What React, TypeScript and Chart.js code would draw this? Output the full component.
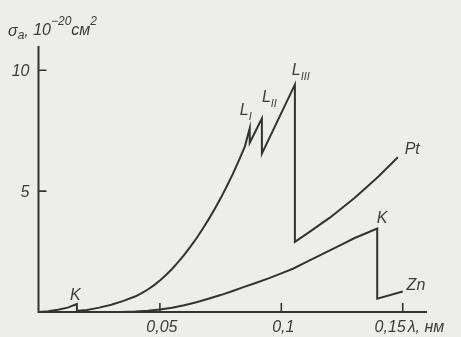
import { useEffect, useRef } from "react";
import { Chart, registerables } from "chart.js";

Chart.register(...registerables);

// Platinum: K edge near 0.016 nm, then L_I, L_II, L_III edges
const ptWavelength = [
  0, 0.004, 0.008, 0.012, 0.0158, 0.0158, 0.02, 0.025, 0.03, 0.035, 0.04, 0.0425,
  0.045, 0.0475, 0.05, 0.0525, 0.055, 0.0575, 0.06, 0.0625, 0.065, 0.0675, 0.07,
  0.0725, 0.075, 0.0775, 0.08, 0.0825, 0.085, 0.087, 0.087, 0.092, 0.092,
  0.1056, 0.1056, 0.11, 0.115, 0.12, 0.125, 0.13, 0.135, 0.14, 0.148,
];
const ptCrossSection = [
  0, 0.03, 0.09, 0.18, 0.33, 0.05, 0.08, 0.18, 0.3, 0.46, 0.65, 0.78,
  0.93, 1.1, 1.3, 1.53, 1.78, 2.06, 2.36, 2.69, 3.04, 3.42, 3.82,
  4.25, 4.7, 5.19, 5.7, 6.26, 6.85, 7.6, 7.0, 8.0, 6.55,
  9.4, 2.9, 3.2, 3.55, 3.9, 4.3, 4.7, 5.15, 5.6, 6.4,
];

// Zinc: K edge near 0.14 nm
const znWavelength = [
  0.034, 0.04, 0.045, 0.05, 0.055, 0.06, 0.065, 0.07, 0.075, 0.08, 0.085, 0.09,
  0.095, 0.1, 0.105, 0.11, 0.115, 0.12, 0.125, 0.13, 0.1395, 0.1395, 0.15,
];
const znCrossSection = [
  0, 0.02, 0.05, 0.1, 0.18, 0.28, 0.4, 0.55, 0.7, 0.87, 1.05, 1.22,
  1.4, 1.6, 1.8, 2.05, 2.3, 2.55, 2.8, 3.05, 3.45, 0.55, 0.85,
];

const xTickValues = [0.05, 0.1, 0.15];
const xTickLabels = ["0,05", "0,1", "0,15"];
const yTickValues = [5, 10];
const yTickLabels = ["5", "10"];

const BG = "rgb(237,238,235)";
const INK = "#2f352f";
const TEXT = "#3a3d3a";
const FONT = "'Liberation Sans', 'DejaVu Sans', sans-serif";

const toPoints = (xs: number[], ys: number[]) => xs.map((x, i) => ({ x, y: ys[i] }));

// Curve and edge annotations: [main text, subscript, λ, σ]
const annotations: [string, string, number, number][] = [
  ["K", "", 0.013, 0.5],
  ["L", "I", 0.0829, 8.15],
  ["L", "II", 0.092, 8.68],
  ["L", "III", 0.1043, 9.8],
  ["Pt", "", 0.1508, 6.53],
  ["K", "", 0.1393, 3.68],
  ["Zn", "", 0.1516, 0.91],
];

const decorations = {
  id: "decorations",
  beforeDraw(chart: Chart) {
    const ctx = chart.ctx;
    ctx.save();
    ctx.fillStyle = BG;
    ctx.fillRect(0, 0, chart.width, chart.height);
    ctx.restore();
  },
  beforeDatasetsDraw(chart: Chart) {
    const ctx = chart.ctx;
    const xs = chart.scales.x;
    const ys = chart.scales.y;
    const { left, right, top, bottom } = chart.chartArea;
    ctx.save();
    ctx.strokeStyle = INK;
    ctx.lineWidth = 2;
    ctx.beginPath();
    ctx.moveTo(left, top);
    ctx.lineTo(left, bottom);
    ctx.lineTo(right, bottom);
    ctx.stroke();
    // inward tick marks
    ctx.lineWidth = 1.6;
    ctx.beginPath();
    xTickValues.forEach((v) => {
      const px = xs.getPixelForValue(v);
      ctx.moveTo(px, bottom);
      ctx.lineTo(px, bottom - 9);
    });
    yTickValues.forEach((v) => {
      const py = ys.getPixelForValue(v);
      ctx.moveTo(left, py);
      ctx.lineTo(left + 8, py);
    });
    ctx.stroke();

    ctx.fillStyle = TEXT;
    ctx.font = `italic 16px ${FONT}`;
    ctx.textBaseline = "alphabetic";
    // y tick labels
    ctx.textAlign = "right";
    yTickValues.forEach((v, i) => {
      ctx.fillText(yTickLabels[i], left - 9, ys.getPixelForValue(v) + 6);
    });
    // x tick labels; the last one leaves room for the unit
    xTickValues.forEach((v, i) => {
      const px = xs.getPixelForValue(v);
      if (i === xTickValues.length - 1) {
        ctx.textAlign = "right";
        ctx.fillText(xTickLabels[i], px + 3, bottom + 20);
        ctx.textAlign = "left";
        ctx.fillText("λ, нм", px + 5, bottom + 20);
      } else {
        ctx.textAlign = "center";
        ctx.fillText(xTickLabels[i], px + 2, bottom + 20);
      }
    });

    // axis title: σa, 10^-20 см^2
    ctx.textAlign = "left";
    let x = 8;
    const put = (t: string, size: number, dy: number) => {
      ctx.font = `italic ${size}px ${FONT}`;
      ctx.fillText(t, x, dy);
      x += ctx.measureText(t).width;
    };
    put("σ", 16, 36);
    put("a", 12, 39);
    put(", ", 16, 36);
    put("10", 16, 35);
    put("−20", 12, 25);
    put("см", 16, 35);
    put("2", 12, 25);

    // curve and edge labels
    annotations.forEach(([main, sub, lx, ly]) => {
      const px = xs.getPixelForValue(lx);
      const py = ys.getPixelForValue(ly);
      ctx.font = `italic 16px ${FONT}`;
      ctx.fillText(main, px, py);
      if (sub) {
        const w = ctx.measureText(main).width;
        ctx.font = `italic 11px ${FONT}`;
        ctx.fillText(sub, px + w, py + 5);
      }
    });
    ctx.restore();
  },
};

export default function App() {
  const canvasRef = useRef<HTMLCanvasElement | null>(null);

  useEffect(() => {
    const canvas = canvasRef.current;
    if (!canvas) return;
    const lineStyle = {
      borderColor: INK,
      borderWidth: 2,
      pointRadius: 0,
      tension: 0,
      fill: false,
      clip: false as const,
    };
    const chart = new Chart(canvas, {
      type: "line",
      data: {
        datasets: [
          { label: "Pt", data: toPoints(ptWavelength, ptCrossSection), ...lineStyle },
          { label: "Zn", data: toPoints(znWavelength, znCrossSection), ...lineStyle },
        ],
      },
      options: {
        animation: false,
        responsive: false,
        layout: { padding: { top: 46, right: 34, left: 0, bottom: 0 } },
        plugins: { legend: { display: false }, tooltip: { enabled: false } },
        scales: {
          x: {
            type: "linear",
            min: 0,
            max: 0.16,
            ticks: { display: false },
            grid: { display: false },
            border: { display: false },
            afterFit: (s: any) => {
              s.height = 25;
            },
          },
          y: {
            type: "linear",
            min: 0,
            max: 11,
            ticks: { display: false },
            grid: { display: false },
            border: { display: false },
            afterFit: (s: any) => {
              s.width = 38.5;
            },
          },
        },
      },
      plugins: [decorations],
    });
    return () => chart.destroy();
  }, []);

  return (
    <div style={{ position: "fixed", left: 0, top: 0, width: 461, height: 337, background: BG }}>
      <canvas ref={canvasRef} width={461} height={337} style={{ display: "block" }} />
    </div>
  );
}
